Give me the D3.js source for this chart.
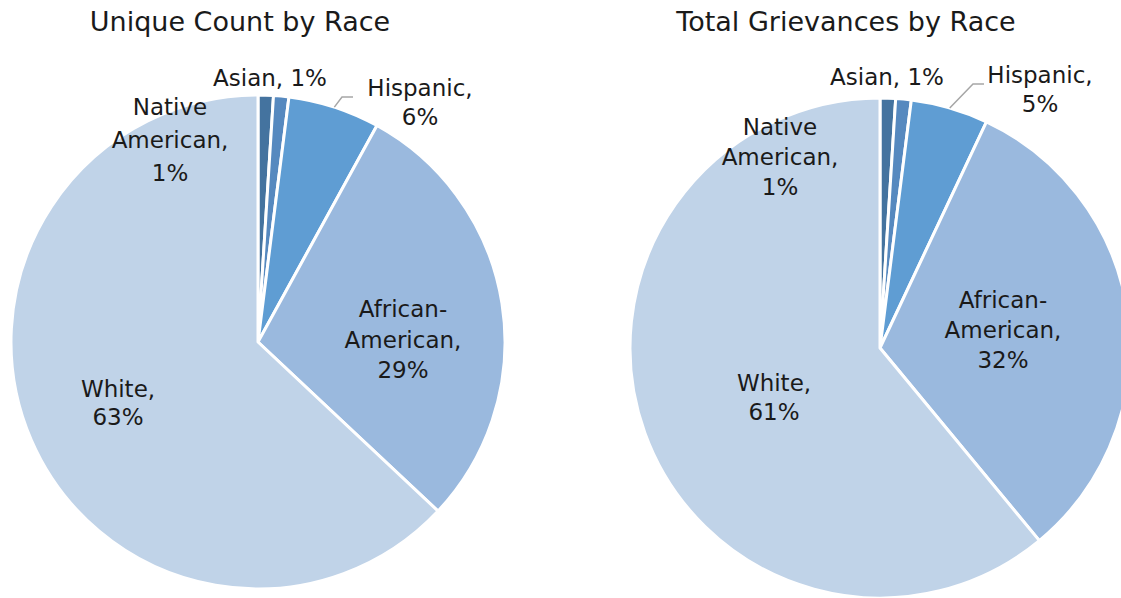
<!DOCTYPE html>
<html>
<head>
<meta charset="utf-8">
<script src="https://cdn.jsdelivr.net/npm/d3@7"></script>
<style>
  html, body { margin: 0; padding: 0; background: #ffffff; }
  svg { display: block; }
  text { font-family: "DejaVu Sans", sans-serif; fill: #1a1a1a; }
</style>
</head>
<body>
<div id="chart"></div>
<script>
// Categories in slice order (clockwise from 12 o'clock)
const races = ["Native American", "Asian", "Hispanic", "African-American", "White"];
// Percent shares for each chart
const uniqueCount = [1, 1, 6, 29, 63];
const totalGrievances = [1, 1, 5, 32, 61];
const chartTitles = ["Unique Count by Race", "Total Grievances by Race"];

const sliceColors = ["#44739f", "#5689bf", "#5f9dd3", "#9ab9de", "#c0d3e8"];

const W = 1121, H = 598;
const svg = d3.select("#chart").append("svg").attr("width", W).attr("height", H);

// Layout of each pie: centre, radius, title centre, and label anchors
// (offsets from the pie centre, first-line baseline, line spacing)
const panels = [
  {
    values: uniqueCount, title: chartTitles[0],
    cx: 258, cy: 342, r: 247, titleX: 240,
    labels: {
      "Native American":  { dx: -88, dy: -227, lh: 33, wrap: "multi" },
      "Asian":            { dx: 12,  dy: -256, lh: 30, wrap: "single" },
      "Hispanic":         { dx: 162, dy: -246, lh: 29, wrap: "multi",
                            leader: { elbow: [84, -245], end: [95, -245] } },
      "African-American": { dx: 145, dy: -25,  lh: 30.5, wrap: "multi" },
      "White":            { dx: -140, dy: 55,  lh: 28, wrap: "multi" }
    }
  },
  {
    values: totalGrievances, title: chartTitles[1],
    cx: 880, cy: 348, r: 250, titleX: 846,
    labels: {
      "Native American":  { dx: -100, dy: -213, lh: 30, wrap: "multi" },
      "Asian":            { dx: 7,   dy: -263, lh: 30, wrap: "single" },
      "Hispanic":         { dx: 160, dy: -265, lh: 29, wrap: "multi",
                            leader: { elbow: [93, -264], end: [104, -264] } },
      "African-American": { dx: 123, dy: -40,  lh: 30, wrap: "multi" },
      "White":            { dx: -106, dy: 43,  lh: 29, wrap: "multi" }
    }
  }
];

const pctFmt = d3.format(".0%");

function labelLines(name, share, wrap) {
  const pct = pctFmt(share);
  if (wrap === "single") return [name + ", " + pct];
  if (name.includes("-")) {
    const parts = name.split("-");
    return [parts[0] + "-", parts[1] + ",", pct];
  }
  const words = name.split(" ");
  if (words.length > 1) return [words[0], words.slice(1).join(" ") + ",", pct];
  return [name + ",", pct];
}

panels.forEach(p => {
  const data = races.map((name, i) => ({ name, value: p.values[i], color: sliceColors[i] }));
  const total = d3.sum(data, d => d.value);

  const pie = d3.pie().sort(null).value(d => d.value);
  const arc = d3.arc().innerRadius(0).outerRadius(p.r);
  const arcs = pie(data);

  const g = svg.append("g").attr("transform", `translate(${p.cx},${p.cy})`);

  g.selectAll("path.slice")
    .data(arcs)
    .join("path")
    .attr("class", "slice")
    .attr("d", arc)
    .attr("fill", d => d.data.color)
    .attr("stroke", "#ffffff")
    .attr("stroke-width", 3)
    .attr("stroke-linejoin", "round");

  // Leader lines for labels placed outside the pie
  arcs.forEach(a => {
    const lay = p.labels[a.data.name];
    if (!lay.leader) return;
    const mid = (a.startAngle + a.endAngle) / 2;
    const sx = p.r * Math.sin(mid), sy = -p.r * Math.cos(mid);
    g.append("polyline")
      .attr("points", [[sx, sy], lay.leader.elbow, lay.leader.end].map(pt => pt.join(",")).join(" "))
      .attr("fill", "none")
      .attr("stroke", "#a6a6a6")
      .attr("stroke-width", 1.5);
  });

  // Data labels
  arcs.forEach(a => {
    const lay = p.labels[a.data.name];
    const lines = labelLines(a.data.name, a.data.value / total, lay.wrap);
    const t = g.append("text")
      .attr("text-anchor", "middle")
      .attr("font-size", 23);
    lines.forEach((ln, i) => {
      t.append("tspan")
        .attr("x", lay.dx)
        .attr("y", lay.dy + i * lay.lh)
        .text(ln);
    });
  });

  svg.append("text")
    .attr("x", p.titleX)
    .attr("y", 31)
    .attr("text-anchor", "middle")
    .attr("font-size", 27)
    .text(p.title);
});
</script>
</body>
</html>
